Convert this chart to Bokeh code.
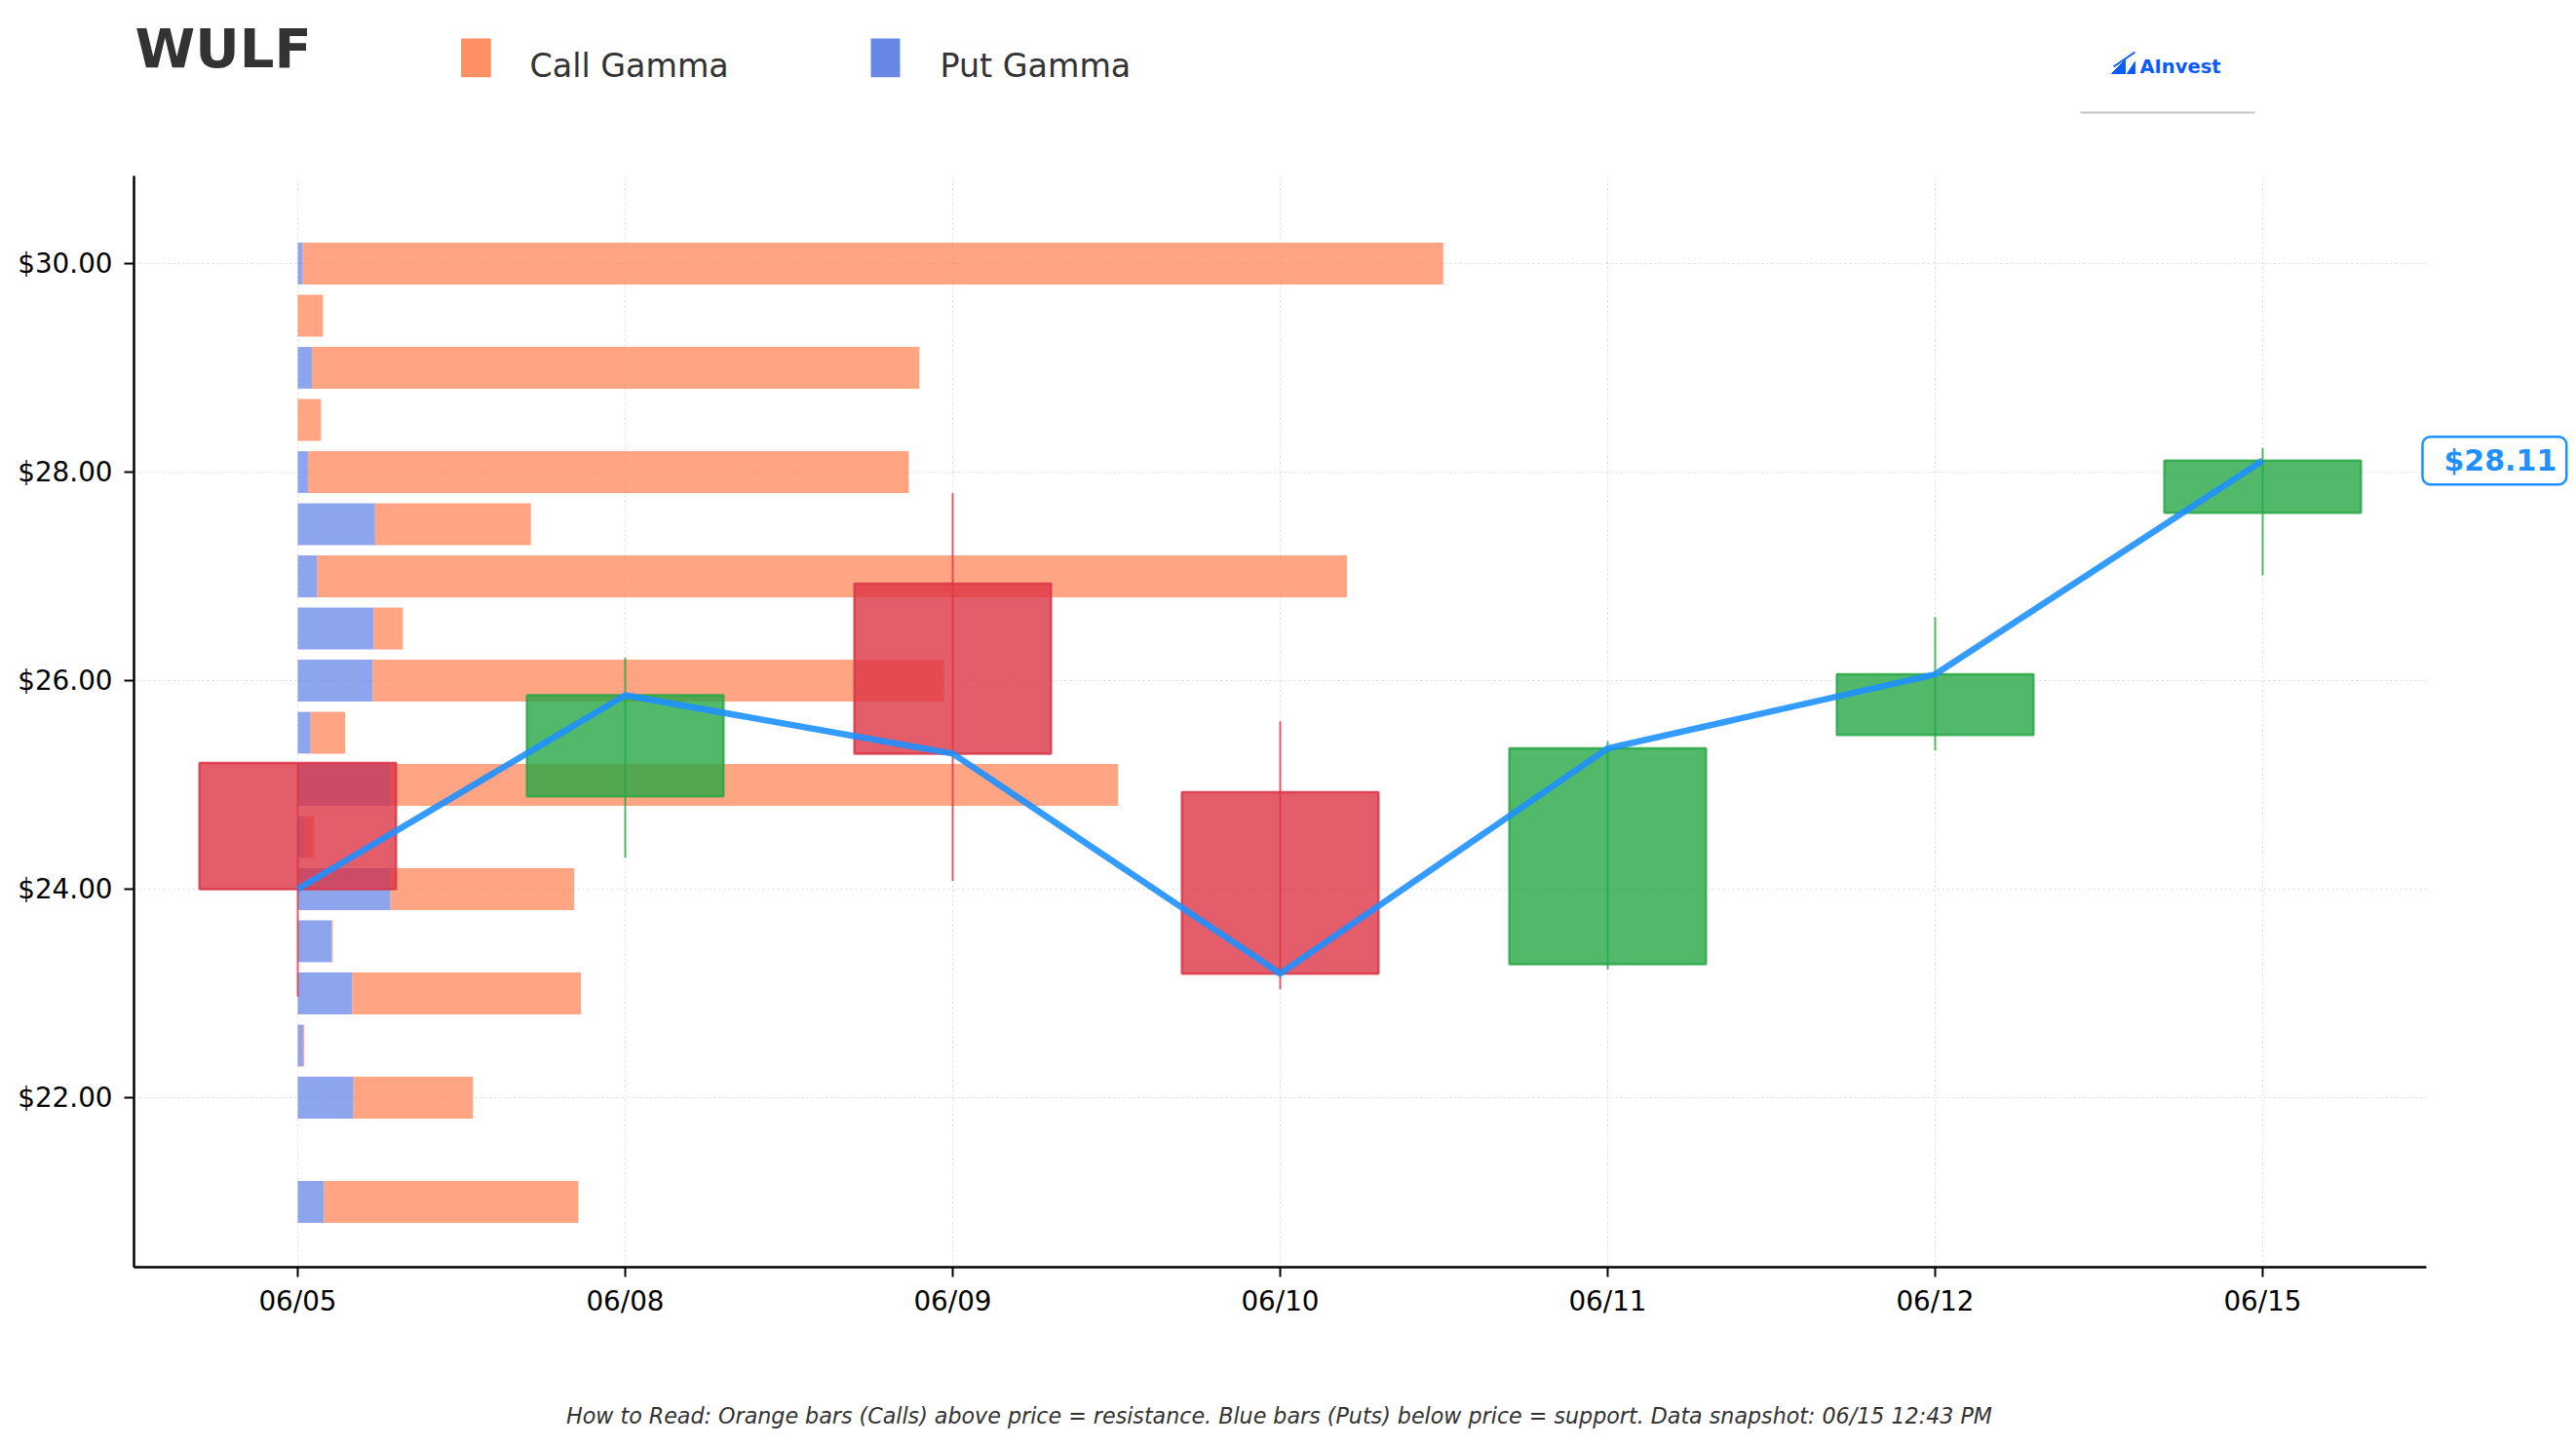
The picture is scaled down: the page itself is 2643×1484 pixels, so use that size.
import numpy as np
from bokeh.plotting import figure
from bokeh.models import ColumnDataSource, Range1d, FixedTicker, PrintfTickFormatter, Label
from bokeh.layouts import column
from bokeh.core.properties import value
from bokeh.embed import file_html
from bokeh.resources import INLINE

# ---------------- data ----------------
symbol = "WULF"
dates = ["06/05", "06/08", "06/09", "06/10", "06/11", "06/12", "06/15"]
opens = [25.21, 24.89, 26.93, 24.93, 23.28, 25.48, 27.61]
closes = [24.00, 25.86, 25.30, 23.19, 25.35, 26.06, 28.11]
highs = [25.21, 26.22, 27.80, 25.61, 25.42, 26.61, 28.23]
lows = [22.97, 24.30, 24.08, 23.04, 23.23, 25.33, 27.01]

strikes = [21.0, 22.0, 22.5, 23.0, 23.5, 24.0, 24.5, 25.0, 25.5, 26.0,
           26.5, 27.0, 27.5, 28.0, 28.5, 29.0, 29.5, 30.0]
put_gamma = [0.080, 0.170, 0.016, 0.166, 0.104, 0.283, 0.020, 0.283, 0.039, 0.229,
             0.232, 0.059, 0.236, 0.031, 0.000, 0.043, 0.000, 0.015]
call_gamma = [0.777, 0.365, 0.004, 0.699, 0.003, 0.561, 0.030, 2.222, 0.106, 1.744,
              0.089, 3.145, 0.476, 1.835, 0.071, 1.855, 0.077, 3.483]

y_ticks = [22, 24, 26, 28, 30]
legend_labels = ["Call Gamma", "Put Gamma"]
footer = ("How to Read: Orange bars (Calls) above price = resistance. "
          "Blue bars (Puts) below price = support. Data snapshot: 06/15 12:43 PM")
brand = "AInvest"

FONT = "DejaVu Sans"
CALL_C = "#FF7F50"
PUT_C = "#4169E1"
UP_C = "#28a745"
DOWN_C = "#dc3545"
LINE_C = "#1E90FF"

W = 2640
LEFT = 137          # frame left (px)
HH = 140            # header height
MH = 1240           # main chart height
FH = 100            # footer height
X0, X1 = -0.5, 6.5
UNIT = (2489 - LEFT) / (X1 - X0)
XR = X0 + (W - LEFT) / UNIT


def blank(height, y0, y1):
    f = figure(width=W, height=height, x_range=Range1d(LEFT, W), y_range=Range1d(y1, y0),
               output_backend="svg", toolbar_location=None,
               min_border_left=LEFT, min_border_right=0, min_border_top=0, min_border_bottom=0,
               x_axis_location=None, y_axis_location=None)
    f.grid.visible = False
    f.outline_line_color = None
    f.background_fill_color = "white"
    f.border_fill_color = "white"
    return f


# ---------------- header ----------------
head = blank(HH, 0, HH)
head.text(x=[138], y=[49], text=[symbol], text_font=value(FONT), text_font_style="bold",
          text_font_size=value("56px"), text_color="#333333", text_baseline="alphabetic")
head.quad(left=[472.6, 893], right=[503.3, 923], top=[39, 39], bottom=[78.7, 78.7],
          fill_color=[CALL_C, PUT_C], fill_alpha=[0.88, 0.8], line_color=None)
head.text(x=[543, 964], y=[66.5, 66.5], text=legend_labels, text_font=value(FONT),
          text_font_size=value("33.3px"), text_color="#333333", text_baseline="alphabetic")
head.patches(xs=[[2166, 2180, 2180], [2182, 2190, 2190]], ys=[[75, 75, 61], [75, 75, 63]],
             fill_color="#0A5BFF", line_color="#0A5BFF", line_width=1)
head.segment(x0=[2168], y0=[68], x1=[2190], y1=[53], line_color="#0A5BFF", line_width=2)
head.text(x=[2195], y=[68], text=[brand], text_font=value(FONT), text_font_style="bold",
          text_font_size=value("19.5px"), text_color="#0A5BFF", text_baseline="alphabetic")
head.segment(x0=[2134], y0=[115], x1=[2313], y1=[115], line_color="#c4c4c4", line_width=2)

# ---------------- main chart ----------------
p = figure(width=W, height=MH, x_range=Range1d(X0, XR), y_range=Range1d(20.374, 30.841),
           output_backend="svg", toolbar_location=None,
           min_border_left=LEFT, min_border_right=0, min_border_top=40, min_border_bottom=80)
p.outline_line_color = None
p.background_fill_color = "white"
p.border_fill_color = "white"

p.xgrid.grid_line_color = "#dcdcdc"
p.xgrid.grid_line_dash = "2 3"
p.xgrid.grid_line_width = 1
p.ygrid.visible = False
p.segment(x0=[X0] * len(y_ticks), x1=[X1] * len(y_ticks), y0=y_ticks, y1=y_ticks,
          line_color="#dcdcdc", line_dash="2 3", line_width=1)

# gamma bars
puts = np.array(put_gamma)
calls = np.array(call_gamma)
bars = ColumnDataSource(dict(y=strikes, l0=np.zeros(len(strikes)), r0=puts, r1=puts + calls))
p.hbar(y="y", left="l0", right="r0", height=0.4, source=bars,
       fill_color=PUT_C, fill_alpha=0.6, line_color=None)
p.hbar(y="y", left="r0", right="r1", height=0.4, source=bars,
       fill_color=CALL_C, fill_alpha=0.7, line_color=None)

# candles
idx = np.arange(len(dates))
o = np.array(opens); c = np.array(closes)
up = c >= o
for mask, col in ((up, UP_C), (~up, DOWN_C)):
    src = ColumnDataSource(dict(x=idx[mask], top=np.maximum(o, c)[mask], bottom=np.minimum(o, c)[mask],
                                hi=np.array(highs)[mask], lo=np.array(lows)[mask]))
    p.segment(x0="x", y0="lo", x1="x", y1="hi", source=src, line_color=col, line_width=2, line_alpha=0.8)
    p.vbar(x="x", width=0.6, top="top", bottom="bottom", source=src,
           fill_color=col, fill_alpha=0.8, line_color=col, line_alpha=0.85, line_width=2.5)

# price line
p.line(x=idx, y=closes, line_color=LINE_C, line_width=6.5, line_alpha=0.9, line_join="round")

# axes
p.xaxis.ticker = FixedTicker(ticks=list(range(len(dates))))
p.xaxis.major_label_overrides = {i: d for i, d in enumerate(dates)}
p.xaxis.bounds = (X0, X1)
p.yaxis.ticker = FixedTicker(ticks=y_ticks)
p.yaxis.formatter = PrintfTickFormatter(format="$%.2f")
for ax in (p.xaxis, p.yaxis):
    ax.axis_line_color = "black"
    ax.axis_line_width = 2.5
    ax.major_tick_line_color = "black"
    ax.major_tick_line_width = 2
    ax.major_tick_out = 10
    ax.major_tick_in = 0
    ax.minor_tick_line_color = None
    ax.major_label_text_font = FONT
    ax.major_label_text_font_size = "27.8px"
    ax.major_label_text_color = "black"
p.xaxis.major_label_standoff = 8
p.yaxis.major_label_standoff = 12

# last price tag  (padding order: left, right, top, bottom)
p.add_layout(Label(x=X1, y=closes[-1], x_offset=-4, text=f"${closes[-1]:.2f}",
                   text_font=FONT, text_font_style="bold", text_font_size="30px",
                   text_color=LINE_C, text_align="left", text_baseline="middle",
                   background_fill_color="white", border_line_color=LINE_C,
                   border_line_width=2.5, border_radius=8, padding=(22, 10, 7, 7)))

# ---------------- footer ----------------
foot = blank(FH, HH + MH, HH + MH + FH)
foot.text(x=[1312], y=[1452], text=[footer], text_font=value(FONT), text_font_style="italic",
          text_font_size=value("22.2px"), text_color="#333333",
          text_align="center", text_baseline="middle")

layout = column(head, p, foot, spacing=0)
open("out.html", "w").write(file_html(layout, INLINE))
